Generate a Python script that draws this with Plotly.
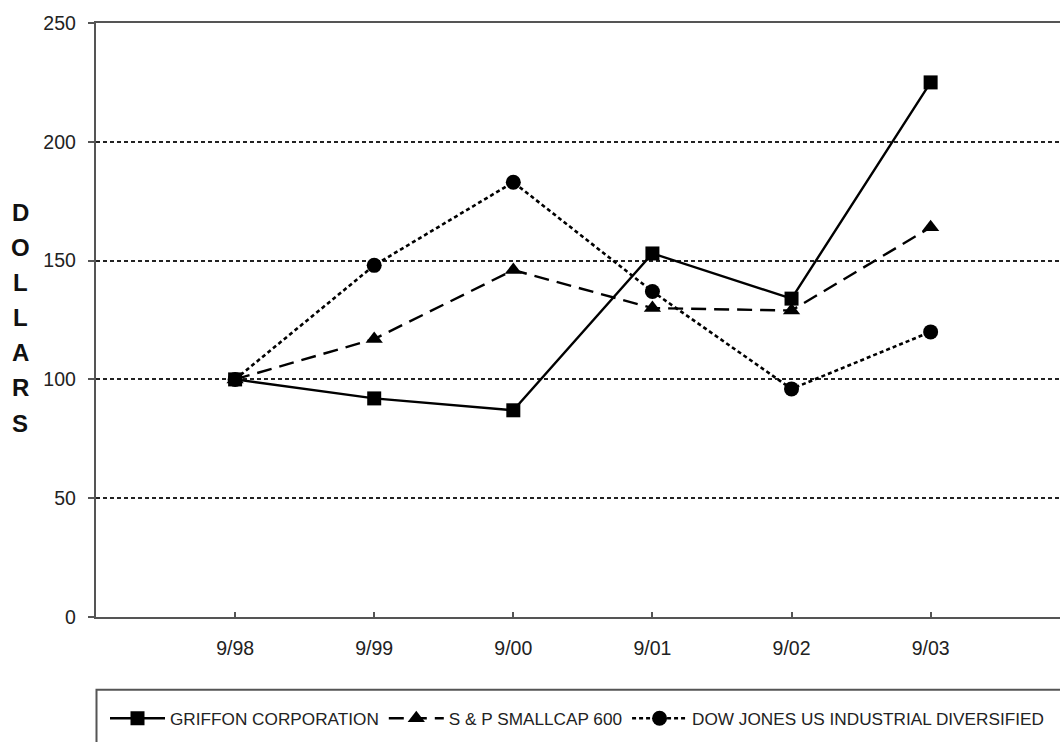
import plotly.graph_objects as go

categories = ["9/98", "9/99", "9/00", "9/01", "9/02", "9/03"]
griffon = [100, 92, 87, 153, 134, 225]
smallcap = [100, 117, 146, 130, 129, 164]
dowjones = [100, 148, 183, 137, 96, 120]
series_names = ["GRIFFON CORPORATION", "S & P SMALLCAP 600", "DOW JONES US INDUSTRIAL DIVERSIFIED"]
y_ticks = [0, 50, 100, 150, 200, 250]
axis_title = "DOLLARS"

FONT = "Liberation Sans, Arial, sans-serif"

fig = go.Figure()
fig.add_trace(go.Scatter(
    x=categories, y=griffon, name=series_names[0], mode="lines+markers",
    line=dict(color="black", width=2.4, dash="solid"),
    marker=dict(symbol="square", size=14, color="black")))
fig.add_trace(go.Scatter(
    x=categories, y=smallcap, name=series_names[1], mode="lines+markers",
    line=dict(color="black", width=2.4, dash="15px,8px"),
    marker=dict(symbol="triangle-up", size=15, color="black")))
fig.add_trace(go.Scatter(
    x=categories, y=dowjones, name=series_names[2], mode="lines+markers",
    line=dict(color="black", width=2.6, dash="4px,3px"),
    marker=dict(symbol="circle", size=15, color="black")))

# vertical axis title, one letter per line
for i, ch in enumerate(axis_title):
    ypx = 212 + i * 35.2
    fig.add_annotation(
        text="<b>%s</b>" % ch, xref="paper", yref="paper",
        x=(20 - 96) / 964.0, y=(617.3 - ypx) / 594.6,
        showarrow=False, xanchor="center", yanchor="middle",
        font=dict(family=FONT, size=24, color="#111"))

# legend box outline (runs off the bottom/right edge like the reference)
fig.add_shape(type="rect", xref="paper", yref="paper",
              x0=(96.5 - 96) / 964.0, x1=1.2,
              y0=(617.3 - 760) / 594.6, y1=(617.3 - 690) / 594.6,
              line=dict(color="#555", width=2), fillcolor="rgba(0,0,0,0)")

fig.update_layout(
    width=1060, height=742,
    margin=dict(l=96, r=0, t=22.7, b=124.7),
    paper_bgcolor="white", plot_bgcolor="white",
    font=dict(family=FONT, color="#222"),
    showlegend=True,
    legend=dict(orientation="h", x=(105 - 96) / 964.0, xanchor="left",
                y=(617.3 - 719) / 594.6, yanchor="middle",
                font=dict(family=FONT, size=17.2, color="#222"),
                bgcolor="rgba(0,0,0,0)", borderwidth=0, itemwidth=55,
                itemclick=False),
    xaxis=dict(type="category", range=[-1, 5.93], showgrid=False,
               showline=True, linecolor="#555", linewidth=2.4, mirror=True,
               ticks="inside", ticklen=5, tickwidth=1.5, tickcolor="#555",
               tickfont=dict(family=FONT, size=19.5, color="#222"),
               ticklabelstandoff=12, zeroline=False),
    yaxis=dict(range=[0, 250], tickvals=y_ticks, showline=True,
               linecolor="#555", linewidth=2.4, ticks="outside", ticklen=6,
               tickwidth=1.5, tickcolor="#555",
               showgrid=True, gridcolor="#222", gridwidth=1.8, griddash="4px,3px",
               tickfont=dict(family=FONT, size=19.5, color="#222"),
               ticklabelstandoff=8, zeroline=False),
)

fig.write_html("out.html", config={"displayModeBar": False},
               post_script="document.body.style.margin='0';document.body.style.overflow='hidden';")
